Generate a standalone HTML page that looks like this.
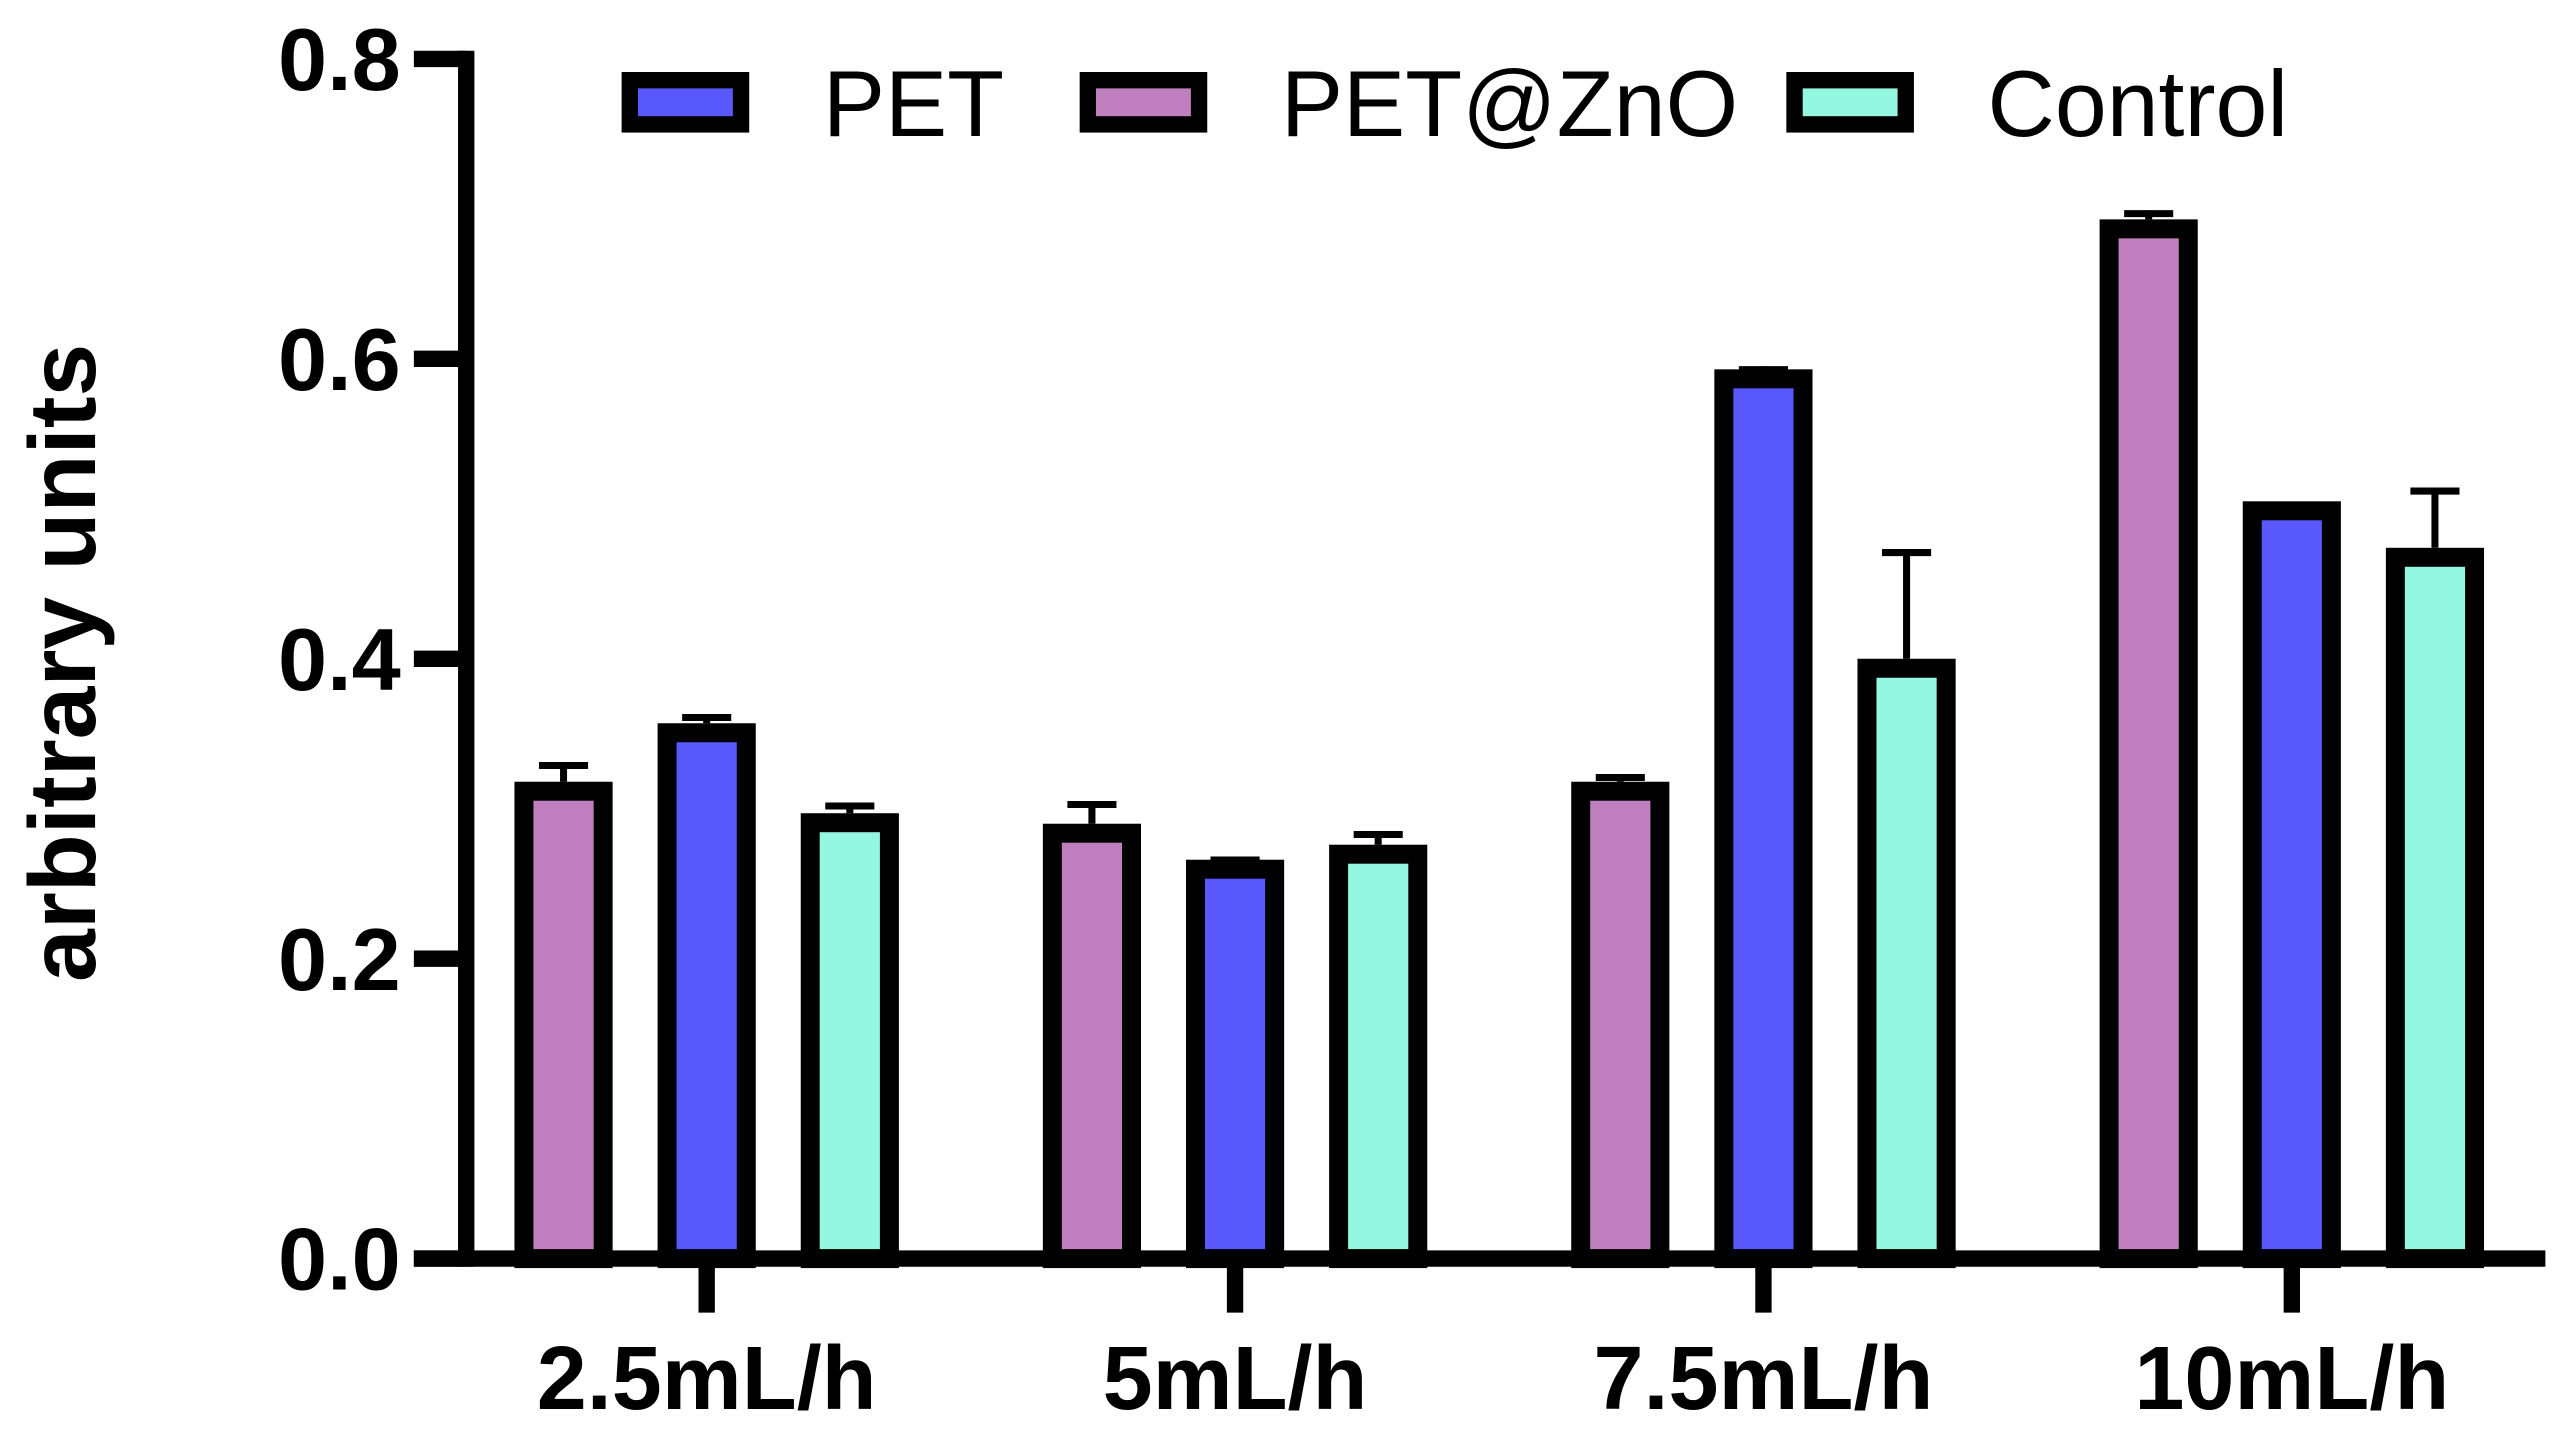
<!DOCTYPE html>
<html><head><meta charset="utf-8"><style>html,body{margin:0;padding:0;background:#fff}svg{display:block}</style></head>
<body>
<svg id="chart" width="2565" height="1437" viewBox="0 0 1568 878" preserveAspectRatio="none" xmlns="http://www.w3.org/2000/svg" font-family="Liberation Sans, Arial, sans-serif">
<g id="bars"></g>
<g id="axes"></g>
<g id="legend"></g>
</svg>
<script>
const categories = ['2.5mL/h', '5mL/h', '7.5mL/h', '10mL/h'];
const seriesNames = ['PET@ZnO', 'PET', 'Control'];
const petZnO = [0.318, 0.290, 0.318, 0.693];
const petZnOErr = [0.013, 0.015, 0.005, 0.006];
const pet = [0.357, 0.266, 0.593, 0.505];
const petErr = [0.006, 0.002, 0.002, 0.000];
const control = [0.297, 0.276, 0.400, 0.474];
const controlErr = [0.007, 0.009, 0.073, 0.040];
const yTicks = [0, 0.2, 0.4, 0.6, 0.8];
const yTickLabels = ['0.0', '0.2', '0.4', '0.6', '0.8'];
const legendOrder = ['PET', 'PET@ZnO', 'Control'];

const NS = 'http://www.w3.org/2000/svg';
const colors = {'PET': '#5858FC', 'PET@ZnO': '#C080C0', 'Control': '#94F7E0'};
const y0 = 769, yTop = 36;
function yScale(v) { return y0 - (v / 0.8) * (y0 - yTop); }
function groupCenter(i) { return 432 + i * 323; }
const barOffset = 87.5;
function barX(i, s) { return groupCenter(i) + (s - 1) * barOffset; }

function mk(tag, attrs, parent) {
  const el = document.createElementNS(NS, tag);
  for (const k in attrs) el.setAttribute(k, attrs[k]);
  parent.appendChild(el);
  return el;
}
const bars = document.getElementById('bars');
const axes = document.getElementById('axes');
const legend = document.getElementById('legend');
const seriesVals = [petZnO, pet, control];
const seriesErrs = [petZnOErr, petErr, controlErr];
const bw = 48.4, sw = 11.6;

categories.forEach((c, i) => {
  seriesVals.forEach((vals, s) => {
    const cx = barX(i, s);
    const top = yScale(vals[i]);
    const err = seriesErrs[s][i];
    if (err > 0) {
      const ey = yScale(vals[i] + err);
      const stem = mk('line', {x1: cx, x2: cx, y1: ey, y2: top, stroke: '#000', 'stroke-width': 4.3}, bars);
      
      
      const cap = mk('line', {x1: cx - 15, x2: cx + 15, y1: ey + 2, y2: ey + 2, stroke: '#000', 'stroke-width': 4.3}, bars);
      
      
    }
    const r = mk('rect', {x: cx - bw / 2, y: top + sw / 2, width: bw, height: y0 - top - sw / 2, fill: colors[seriesNames[s]], stroke: '#000', 'stroke-width': sw}, bars);
    
    
  });
  const t = mk('line', {x1: groupCenter(i), x2: groupCenter(i), y1: y0, y2: 802, stroke: '#000', 'stroke-width': 10}, axes);
  
  
  const lbl = mk('text', {x: groupCenter(i), y: 861, 'text-anchor': 'middle', 'font-size': 55, 'font-weight': 'bold'}, axes);
  lbl.textContent = c;
  
  
});

const yl = mk('line', {x1: 285, x2: 285, y1: 31, y2: 774, stroke: '#000', 'stroke-width': 10}, axes);


const xl = mk('line', {x1: 253, x2: 1556, y1: y0, y2: y0, stroke: '#000', 'stroke-width': 10}, axes);


yTicks.forEach((v, k) => {
  const ty = yScale(v);
  const tk = mk('line', {x1: 253, x2: 285, y1: ty, y2: ty, stroke: '#000', 'stroke-width': 10}, axes);
  
  
  const tl = mk('text', {x: 245, y: ty + 19, 'text-anchor': 'end', 'font-size': 54, 'font-weight': 'bold'}, axes);
  tl.textContent = yTickLabels[k];
  
  
});
const yt = mk('text', {x: 0, y: 0, transform: 'translate(58,405) rotate(-90)', 'text-anchor': 'middle', 'font-size': 58, 'font-weight': 'bold'}, axes);
yt.textContent = 'arbitrary units';



const legX = [380, 660, 1092];
legendOrder.forEach((n, k) => {
  const sq = mk('rect', {x: legX[k] + 5, y: 49, width: 68, height: 27, fill: colors[n], stroke: '#000', 'stroke-width': 10}, legend);
  
  
  const lt = mk('text', {x: legX[k] + 123, y: 83, 'font-size': 57}, legend);
  lt.textContent = n;
  
  
});
</script>
</body></html>
